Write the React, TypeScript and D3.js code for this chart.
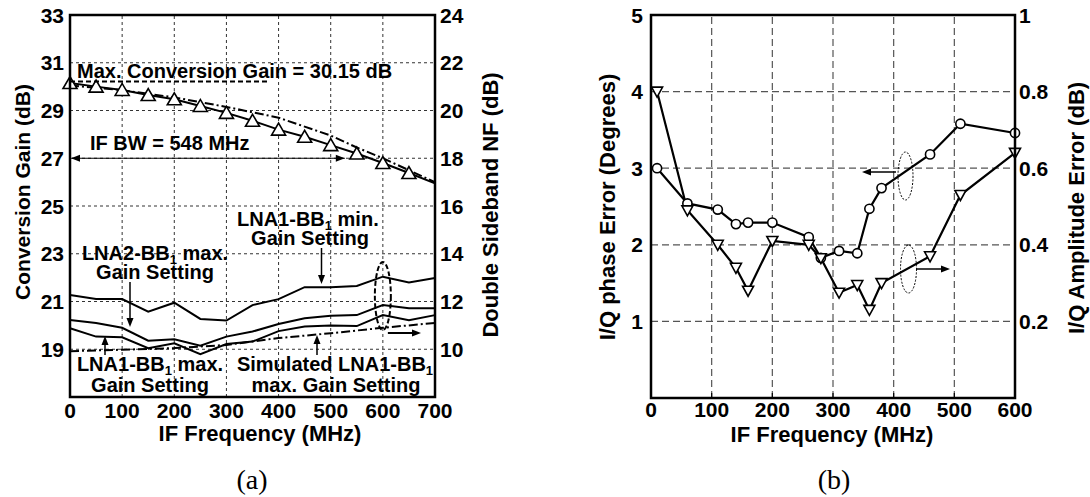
import React from 'react';
import * as d3 from 'd3';

// ---------- Data: chart (a) ----------
const freqA = [0, 50, 100, 150, 200, 250, 300, 350, 400, 450, 500, 550, 600, 650, 700];
const gainMeasured = [30.15, 30.0, 29.86, 29.65, 29.47, 29.19, 28.9, 28.57, 28.2, 27.9, 27.55, 27.2, 26.8, 26.38, 25.95];
const gainMarkerCount = 14;
const freqSimGain = [0, 100, 200, 300, 400, 500, 550, 600, 650, 700];
const gainSimulated = [30.05, 29.85, 29.55, 29.15, 28.7, 27.95, 27.45, 27.0, 26.5, 26.0];
const nfLna1Min = [12.27, 12.1, 12.1, 11.57, 11.95, 11.27, 11.2, 11.85, 12.1, 12.6, 12.6, 12.65, 13.04, 12.8, 12.98];
const nfLna2Max = [11.23, 11.1, 10.9, 10.36, 10.42, 10.15, 10.53, 10.74, 11.06, 11.3, 11.4, 11.43, 11.85, 11.72, 11.72];
const nfLna1Max = [10.88, 10.53, 10.5, 10.04, 10.25, 9.79, 10.22, 10.32, 10.76, 10.95, 10.99, 10.97, 11.43, 11.22, 11.43];
const freqSimNF = [0, 100, 200, 300, 400, 500, 600, 700];
const nfSimulated = [9.92, 9.98, 10.05, 10.18, 10.47, 10.67, 10.9, 11.1];
const gainTicks = [19, 21, 23, 25, 27, 29, 31, 33];
const nfTicks = [10, 12, 14, 16, 18, 20, 22, 24];
const freqTicksA = [0, 100, 200, 300, 400, 500, 600, 700];
const maxGainValue = 30.15;
const ifBandwidth = 548;

// ---------- Data: chart (b) ----------
const freqB = [10, 60, 110, 140, 160, 200, 260, 280, 310, 340, 360, 380, 460, 510, 600];
const phaseError = [3.0, 2.54, 2.46, 2.27, 2.29, 2.29, 2.1, 1.83, 1.92, 1.89, 2.47, 2.74, 3.18, 3.58, 3.46];
const ampError = [0.8, 0.49, 0.4, 0.34, 0.28, 0.41, 0.4, 0.365, 0.275, 0.295, 0.23, 0.3, 0.37, 0.53, 0.64];
const phaseTicks = [1, 2, 3, 4, 5];
const ampTicks = [0.2, 0.4, 0.6, 0.8, 1];
const freqTicksB = [0, 100, 200, 300, 400, 500, 600];

const SANS = '"Liberation Sans", Arial, Helvetica, sans-serif';
const SERIF = '"Liberation Serif", "DejaVu Serif", serif';

const Sub = ({ base, sub }: { base: string; sub: string }) => (
  <>
    {base}
    <tspan fontSize="13" dy="4">{sub}</tspan>
  </>
);

function ChartA() {
  const x = d3.scaleLinear().domain([0, 700]).range([70, 435]);
  const yL = d3.scaleLinear().domain([17, 33]).range([397, 15]);
  const yR = d3.scaleLinear().domain([8, 24]).range([397, 15]);
  const [x0, x1] = x.range();
  const [yb, yt] = yL.range();

  const lineL = d3.line<[number, number]>().x(d => x(d[0])).y(d => yL(d[1]));
  const lineR = d3.line<[number, number]>().x(d => x(d[0])).y(d => yR(d[1]));
  const zip = (a: number[], b: number[]) => a.map((v, i) => [v, b[i]] as [number, number]);

  const tri = (cx: number, cy: number) => `M${cx - 7},${cy + 5.5}L${cx + 7},${cy + 5.5}L${cx},${cy - 6.5}Z`;
  const dashDot = '9,3,2,3';

  return (
    <g fontFamily={SANS} fontWeight="bold">
      {/* grid */}
      {freqTicksA.slice(1, -1).map(t => (
        <line key={'vx' + t} x1={x(t)} x2={x(t)} y1={yb} y2={yt} stroke="#333" strokeWidth={1} strokeDasharray="3,3" />
      ))}
      {gainTicks.slice(0, -1).map(t => (
        <line key={'hy' + t} x1={x0} x2={x1} y1={yL(t)} y2={yL(t)} stroke="#333" strokeWidth={1} strokeDasharray="3,3" />
      ))}

      {/* gain curves */}
      <path d={lineL(zip(freqSimGain, gainSimulated)) || ''} fill="none" stroke="#000" strokeWidth={2} strokeDasharray={dashDot} />
      <path d={lineL(zip(freqA, gainMeasured)) || ''} fill="none" stroke="#000" strokeWidth={2} />
      {freqA.slice(0, gainMarkerCount).map((f, i) => (
        <path key={'t' + i} d={tri(x(f), yL(gainMeasured[i]))} fill="#fff" stroke="#000" strokeWidth={1.6} />
      ))}

      {/* NF curves */}
      <path d={lineR(zip(freqSimNF, nfSimulated)) || ''} fill="none" stroke="#000" strokeWidth={2} strokeDasharray={dashDot} />
      <path d={lineR(zip(freqA, nfLna1Min)) || ''} fill="none" stroke="#000" strokeWidth={2} />
      <path d={lineR(zip(freqA, nfLna2Max)) || ''} fill="none" stroke="#000" strokeWidth={2} />
      <path d={lineR(zip(freqA, nfLna1Max)) || ''} fill="none" stroke="#000" strokeWidth={2} />

      {/* max gain dashed */}
      <line x1={x(0)} x2={x(383)} y1={yL(maxGainValue) - 1.5} y2={yL(maxGainValue) - 1.5} stroke="#000" strokeWidth={2} strokeDasharray="5,3" />
      <text x={77} y={78} fontSize={20}>Max. Conversion Gain = {maxGainValue} dB</text>

      {/* IF BW arrow */}
      <line x1={x(0) + 2} x2={x(527)} y1={yL(27)} y2={yL(27)} stroke="#000" strokeWidth={1.2} />
      <path d={`M${x(0) + 1},${yL(27)}l9,-3.5l0,7Z`} fill="#000" />
      <path d={`M${x(527)},${yL(27)}l-9,-3.5l0,7Z`} fill="#000" />
      <text x={90} y={150} fontSize={20}>IF BW = {ifBandwidth} MHz</text>

      {/* ellipse + arrow */}
      <ellipse cx={x(600)} cy={296} rx={8} ry={34} fill="none" stroke="#000" strokeWidth={2} strokeDasharray="5,2.5" />
      <line x1={x(600) + 5} x2={414} y1={333} y2={333} stroke="#000" strokeWidth={2} />
      <path d={`M421,333l-9,-3.5l0,7Z`} fill="#000" />

      {/* annotations */}
      <text x={237} y={226} fontSize={20}>
        <Sub base="LNA1-BB" sub="1" /><tspan dy="-4"> min.</tspan>
      </text>
      <text x={310} y={245} fontSize={20} textAnchor="middle">Gain Setting</text>
      <line x1={321.5} x2={321.5} y1={248} y2={277} stroke="#000" strokeWidth={1.5} />
      <path d="M321.5,284l-3.5,-9l7,0Z" fill="#000" />

      <text x={155} y={260} fontSize={20} textAnchor="middle">
        <Sub base="LNA2-BB" sub="1" /><tspan dy="-4"> max.</tspan>
      </text>
      <text x={155} y={279} fontSize={20} textAnchor="middle">Gain Setting</text>
      <line x1={130} x2={130} y1={282} y2={320} stroke="#000" strokeWidth={1.5} />
      <path d="M130,327l-3.5,-9l7,0Z" fill="#000" />

      <text x={150} y={371} fontSize={20} textAnchor="middle">
        <Sub base="LNA1-BB" sub="1" /><tspan dy="-4"> max.</tspan>
      </text>
      <text x={150} y={392} fontSize={20} textAnchor="middle">Gain Setting</text>
      <line x1={105} x2={105} y1={355} y2={343} stroke="#000" strokeWidth={1.5} />
      <path d="M105,336l-3.5,9l7,0Z" fill="#000" />

      <text x={335} y={371} fontSize={20} textAnchor="middle">
        Simulated <Sub base="LNA1-BB" sub="1" />
      </text>
      <text x={336} y={392} fontSize={20} textAnchor="middle">max. Gain Setting</text>
      <line x1={317} x2={317} y1={355} y2={342} stroke="#000" strokeWidth={1.5} />
      <path d="M317,335l-3.5,9l7,0Z" fill="#000" />

      {/* frame */}
      <rect x={x0} y={yt} width={x1 - x0} height={yb - yt} fill="none" stroke="#000" strokeWidth={2.5} />

      {/* tick labels */}
      {gainTicks.map(t => (
        <text key={'gl' + t} x={64} y={yL(t)} dy="0.36em" fontSize={21} textAnchor="end">{t}</text>
      ))}
      {nfTicks.map(t => (
        <text key={'nl' + t} x={440} y={yR(t)} dy="0.36em" fontSize={21} textAnchor="start">{t}</text>
      ))}
      {freqTicksA.map(t => (
        <text key={'fl' + t} x={x(t)} y={418} fontSize={21} textAnchor="middle">{t}</text>
      ))}

      {/* titles */}
      <text transform="translate(22,192) rotate(-90)" dy="0.36em" fontSize={21} textAnchor="middle">Conversion Gain (dB)</text>
      <text transform="translate(490,205) rotate(-90)" dy="0.36em" fontSize={22} textAnchor="middle">Double Sideband NF (dB)</text>
      <text x={260} y={441} fontSize={22} textAnchor="middle">IF Frequency (MHz)</text>
    </g>
  );
}

function ChartB() {
  const x = d3.scaleLinear().domain([0, 600]).range([651, 1015]);
  const yL = d3.scaleLinear().domain([0, 5]).range([398, 15]);
  const yR = d3.scaleLinear().domain([0, 1]).range([398, 15]);
  const [x0, x1] = x.range();
  const [yb, yt] = yL.range();

  const linePh = d3.line<number>().x((_, i) => x(freqB[i])).y(d => yL(d));
  const lineAmp = d3.line<number>().x((_, i) => x(freqB[i])).y(d => yR(d));
  const dtri = (cx: number, cy: number) => `M${cx - 5.5},${cy - 4.5}L${cx + 5.5},${cy - 4.5}L${cx},${cy + 5.5}Z`;

  return (
    <g fontFamily={SANS} fontWeight="bold">
      {freqTicksB.slice(1, -1).map(t => (
        <line key={'vx' + t} x1={x(t)} x2={x(t)} y1={yb} y2={yt} stroke="#555" strokeWidth={1.2} strokeDasharray="7,4" />
      ))}
      {phaseTicks.slice(0, -1).map(t => (
        <line key={'hy' + t} x1={x0} x2={x1} y1={yL(t)} y2={yL(t)} stroke="#555" strokeWidth={1.2} strokeDasharray="7,4" />
      ))}
      {freqTicksB.slice(1, -1).map(t => (
        <line key={'tk' + t} x1={x(t)} x2={x(t)} y1={yb} y2={yb - 5} stroke="#000" strokeWidth={1.2} />
      ))}

      <path d={lineAmp(ampError) || ''} fill="none" stroke="#000" strokeWidth={2.2} />
      <path d={linePh(phaseError) || ''} fill="none" stroke="#000" strokeWidth={2.2} />
      {phaseError.map((v, i) => (
        <circle key={'c' + i} cx={x(freqB[i])} cy={yL(v)} r={4.6} fill="#fff" stroke="#000" strokeWidth={1.6} />
      ))}
      {ampError.map((v, i) => (
        <path key={'d' + i} d={dtri(x(freqB[i]), yR(v))} fill="#fff" stroke="#000" strokeWidth={1.6} />
      ))}

      {/* ellipses and arrows */}
      <ellipse cx={905.5} cy={176} rx={7.5} ry={24} fill="none" stroke="#000" strokeWidth={1} strokeDasharray="2,1.5" />
      <line x1={896} x2={869} y1={172} y2={172} stroke="#000" strokeWidth={1.5} />
      <path d="M862,172l9,-3.5l0,7Z" fill="#000" />
      <ellipse cx={908.5} cy={269} rx={8} ry={24} fill="none" stroke="#000" strokeWidth={1} strokeDasharray="2,1.5" />
      <line x1={916} x2={943} y1={269} y2={269} stroke="#000" strokeWidth={1.5} />
      <path d="M950,269l-9,-3.5l0,7Z" fill="#000" />

      <rect x={x0} y={yt} width={x1 - x0} height={yb - yt} fill="none" stroke="#000" strokeWidth={2.5} />

      {phaseTicks.map(t => (
        <text key={'pl' + t} x={643} y={yL(t)} dy="0.36em" fontSize={21} textAnchor="end">{t}</text>
      ))}
      {ampTicks.map(t => (
        <text key={'al' + t} x={1019} y={yR(t)} dy="0.36em" fontSize={21} textAnchor="start">{t}</text>
      ))}
      {freqTicksB.map(t => (
        <text key={'fl' + t} x={x(t)} y={417} fontSize={21} textAnchor="middle">{t}</text>
      ))}

      <text transform="translate(607,207) rotate(-90)" dy="0.36em" fontSize={22} textAnchor="middle">I/Q phase Error (Degrees)</text>
      <text transform="translate(1076,208) rotate(-90)" dy="0.36em" fontSize={22} textAnchor="middle">I/Q Amplitude Error (dB)</text>
      <text x={832} y={442} fontSize={22} textAnchor="middle">IF Frequency (MHz)</text>
    </g>
  );
}

export default function App() {
  return (
    <svg width={1090} height={497} style={{ position: 'absolute', left: 0, top: 0, background: '#fff' }}>
      <rect width={1090} height={497} fill="#fff" />
      <ChartA />
      <ChartB />
      <text x={252} y={489} fontFamily={SERIF} fontSize={28} textAnchor="middle">(a)</text>
      <text x={834} y={489} fontFamily={SERIF} fontSize={28} textAnchor="middle">(b)</text>
    </svg>
  );
}
